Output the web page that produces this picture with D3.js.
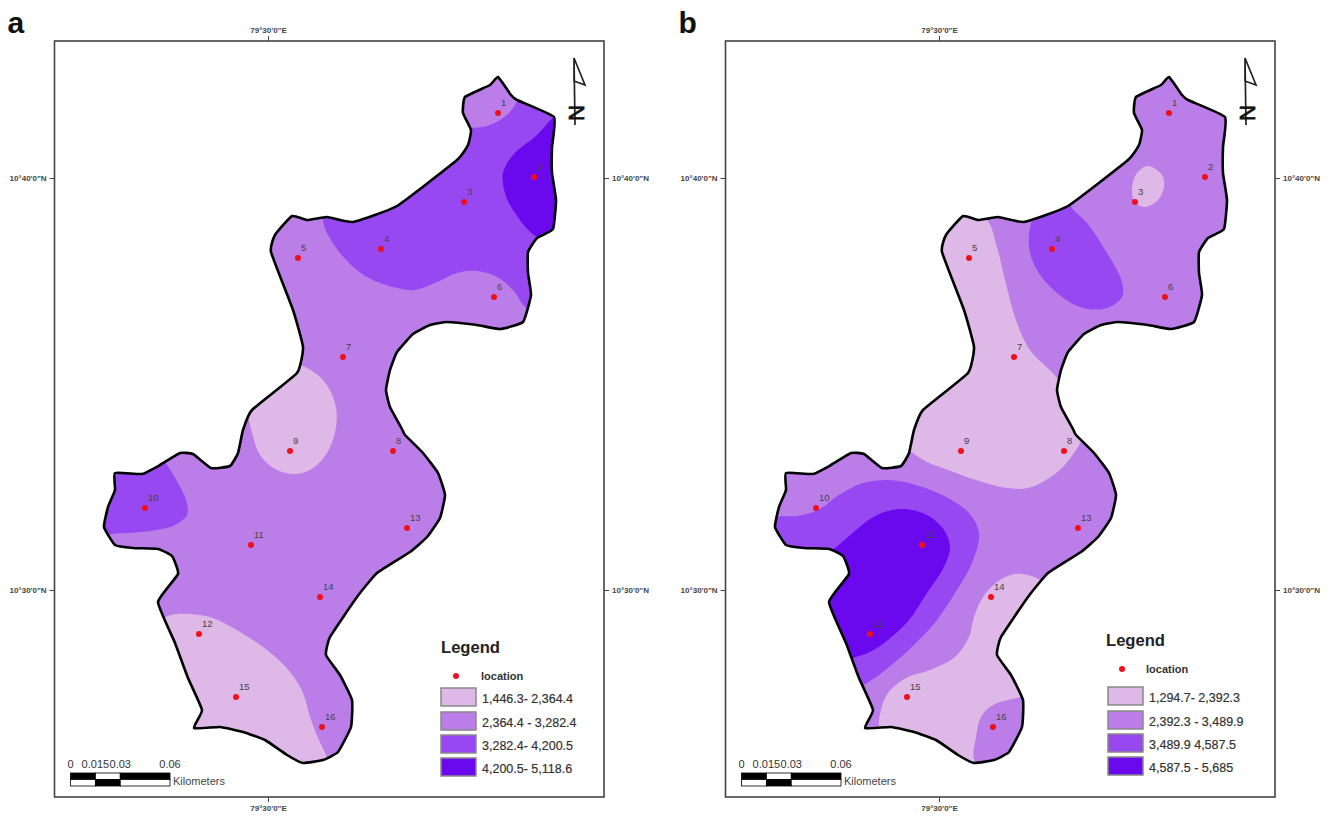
<!DOCTYPE html>
<html lang="en">

<head>
    <meta charset="UTF-8">
    <title>Two classified maps</title>
    <script src="https://d3js.org/d3.v7.min.js"></script>
    <style>
        html, body { margin: 0; background: #fff; }
        svg { display: block; font-family: "Liberation Sans", Arial, sans-serif; }
    </style>
</head>

<body>
    <div id="chart"></div>
    <script>
        // map data is in grid units east / north of the 79°30'E, 10°30'N crossing
        // (412 units = 10 arc minutes)
        const boundary = [
            [230,513],[243,495],[249,490],[286,473],[284,443],[284,417],[288,390],[285,361],[269,352],[260,338],
            [260,317],[263,295],[255,268],[232,261],[209,265],[179,268],[162,265],[145,256],[129,238],[122,220],
            [118,200],[122,183],[134,161],[137,155],[155,137],[170,117],[177,95],[172,72],[159,53],[142,38],
            [109,17],[89,-7],[62,-47],[58,-65],[72,-85],[84,-110],[83,-137],[70,-162],[55,-170],[35,-173],
            [19,-165],[-3,-150],[-25,-142],[-48,-137],[-74,-138],[-66,-120],[-80,-88],[-93,-53],[-110,-12],[-90,16],
            [-96,34],[-110,41],[-135,42],[-153,45],[-164,63],[-160,83],[-153,100],[-153,117],[-126,116],[-108,125],
            [-88,137],[-75,136],[-57,122],[-38,124],[-30,137],[-25,160],[-16,180],[29,217],[35,243],[25,280],
            [3,338],[7,355],[24,374],[39,370],[59,373],[85,368],[129,384],[189,430],[200,445],[203,460],
            [195,477],[197,493],[222,505]
        ];

        const locationIds = [1, 2, 3, 4, 5, 6, 7, 8, 9, 10, 11, 12, 13, 14, 15, 16];
        const locationEast = [230, 266, 196, 113, 30, 226, 75, 125, 22, -123, -17, -69, 139, 52, -32, 54];
        const locationNorth = [477, 413, 388, 341, 332, 293, 233, 139, 139, 82, 45, -44, 62, -7, -107, -137];

        // zones of map a, each one is clipped by the boundary
        const zoneA3Main = [[55,370],[72,337],[99,313],[129,302],[147,300],[169,308],[189,317],[209,319],[229,313],[245,300],[257,283],[277,270],[332,340],[332,480],[252,530],[172,520],[152,420],[62,390]];
        const zoneA2Top = [[202,462],[222,465],[239,475],[249,488],[262,510],[222,530],[177,510],[177,465]];
        const zoneA4East = [[286,473],[269,455],[245,435],[235,417],[237,397],[245,380],[269,353],[307,345],[322,410],[307,485]];
        const zoneA1Centre = [[35,224],[55,210],[67,187],[68,163],[59,137],[45,122],[29,116],[9,120],[-8,135],[-16,157],[-19,170],[-23,185],[17,230]];
        const zoneA3West = [[-101,125],[-90,107],[-81,87],[-81,75],[-93,65],[-118,59],[-141,57],[-156,56],[-183,50],[-183,130],[-118,145]];
        const zoneA1South = [[-100,-26],[-78,-24],[-55,-28],[-28,-42],[-1,-60],[22,-82],[35,-103],[42,-127],[50,-148],[59,-168],[62,-190],[-68,-170],[-108,-110],[-118,-40]];

        // zones of map b
        const zoneB1North = [[48,370],[58,343],[66,310],[78,267],[91,240],[118,212],[127,195],[144,155],[140,145],[124,123],[107,110],[89,102],[68,102],[37,110],[9,120],[-12,128],[-26,137],[-43,150],[-28,190],[-8,330],[22,385]];
        const zoneB3Centre = [[-162,73],[-142,74],[-121,80],[-100,95],[-76,107],[-51,110],[-23,105],[9,92],[30,77],[40,57],[33,27],[16,-3],[-2,-30],[-23,-53],[-51,-78],[-72,-93],[-88,-100],[-128,-30],[-158,30],[-178,60]];
        const zoneB4 = [[-104,42],[-83,60],[-62,75],[-37,81],[-12,75],[5,60],[11,43],[5,23],[-12,-3],[-30,-30],[-51,-50],[-69,-62],[-86,-68],[-103,-75],[-128,-20],[-123,30]];
        const zoneB3North = [[133,382],[148,367],[168,337],[183,308],[183,293],[168,282],[144,282],[118,297],[98,320],[90,343],[93,370],[102,385],[127,395]];
        const zoneB1At3 = [[209,424],[223,415],[225,403],[219,390],[206,383],[196,388],[193,402],[198,417]];
        const zoneB1South = [[102,10],[89,15],[75,16],[58,8],[44,-7],[35,-27],[30,-47],[16,-67],[-9,-80],[-33,-88],[-51,-103],[-58,-120],[-60,-137],[-53,-155],[-38,-180],[52,-200],[102,-150],[107,-60],[122,0]];
        const zoneB2South = [[35,-170],[37,-147],[42,-127],[54,-115],[82,-107],[107,-100],[112,-170],[52,-195]];

        const legendA = ["1,446.3- 2,364.4", "2,364.4 - 3,282.4", "3,282.4- 4,200.5", "4,200.5- 5,118.6"];
        const legendB = ["1,294.7- 2,392.3", "2,392.3 - 3,489.9", "3,489.9 4,587.5", "4,587.5 - 5,685"];
        const scaleStops = [0, 0.015, 0.03, 0.06];

        const classColors = ["#deb8e6", "#bb7ee9", "#9848f0", "#6a08ee"];
        const base = 1; // class that fills the whole map before the zones

        const svg = d3.select("#chart").append("svg")
            .attr("width", 1340)
            .attr("height", 819);

        function drawPanel(p) {
            const x = d3.scaleLinear().domain([-213.5, 336]).range([p.left, p.left + 549.5]);
            const y = d3.scaleLinear().domain([549, -207]).range([41, 797]);
            const smooth = d3.line().x(d => x(d[0])).y(d => y(d[1])).curve(d3.curveCatmullRomClosed.alpha(0.5));
            // tight cardinal keeps the corners of the boundary but softens the long bends
            const outline = d3.line().x(d => x(d[0])).y(d => y(d[1])).curve(d3.curveCardinalClosed.tension(0.6));

            const g = svg.append("g");

            g.append("text").attr("x", p.left - 47).attr("y", 33)
                .attr("font-size", 30).attr("font-weight", "bold").attr("fill", "#111").text(p.letter);

            g.append("rect").attr("x", p.left).attr("y", 41).attr("width", 549.5).attr("height", 756)
                .attr("fill", "#fff").attr("stroke", "#444").attr("stroke-width", 1.6);

            // graticule ticks
            const fmtE = () => "79°30'0\"E";
            const fmtN = d => d === 0 ? "10°30'0\"N" : "10°40'0\"N";
            const axes = [
                [d3.axisTop(x).tickValues([0]).tickFormat(fmtE), 0, 41],
                [d3.axisBottom(x).tickValues([0]).tickFormat(fmtE), 0, 797],
                [d3.axisLeft(y).tickValues([0, 412]).tickFormat(fmtN), p.left, 0],
                [d3.axisRight(y).tickValues([0, 412]).tickFormat(fmtN), p.left + 549.5, 0]
            ];
            axes.forEach(a => {
                const ax = g.append("g").attr("transform", `translate(${a[1]},${a[2]})`)
                    .call(a[0].tickSize(5).tickPadding(3));
                ax.select(".domain").remove();
                ax.selectAll("line").attr("stroke", "#444");
                ax.selectAll("text").attr("font-size", 8).attr("font-weight", "bold")
                    .attr("font-family", "Liberation Sans").attr("fill", "#444");
            });

            // zones, clipped by the boundary
            g.append("clipPath").attr("id", "clip-" + p.letter)
                .append("path").attr("d", outline(boundary));

            g.append("path").attr("d", outline(boundary)).attr("fill", classColors[base]);

            g.append("g").attr("clip-path", `url(#clip-${p.letter})`)
                .selectAll("path")
                .data(p.zones)
                .join("path")
                .attr("d", d => smooth(d.points))
                .attr("fill", d => classColors[d.cls]);

            g.append("path").attr("d", outline(boundary))
                .attr("fill", "none").attr("stroke", "#000").attr("stroke-width", 2.6)
                .attr("stroke-linejoin", "round");

            // sample locations
            const dots = g.append("g").selectAll("g")
                .data(locationIds)
                .join("g")
                .attr("transform", (d, i) => `translate(${x(locationEast[i])},${y(locationNorth[i])})`);
            dots.append("circle").attr("r", 3).attr("fill", "#f0101c");
            dots.append("text").attr("x", 3).attr("y", -7).attr("font-size", 9.5).attr("fill", "#444").text(d => d);

            // north arrow
            const north = g.append("g").attr("transform", `translate(${p.left + 519.5},0)`)
                .attr("fill", "none").attr("stroke", "#222").attr("stroke-width", 1.7);
            north.append("path").attr("d", "M0,58 L11,85 L0,81 Z M0,58 L1,125");
            north.append("text").attr("transform", "translate(-5,113) rotate(90)")
                .attr("text-anchor", "middle").attr("font-size", 22)
                .attr("fill", "#111").attr("stroke", "#111").attr("stroke-width", 0.7).text("N");

            // scale bar
            const km = d3.scaleLinear().domain([0, 0.06]).range([p.left + 16, p.left + 115.5]);
            const bar = g.append("g");
            bar.selectAll("text.stop")
                .data(scaleStops)
                .join("text")
                .attr("class", "stop")
                .attr("x", d => km(d)).attr("y", 768)
                .attr("text-anchor", "middle").attr("font-size", 11).attr("fill", "#333")
                .text(d => d);
            d3.pairs(scaleStops).forEach((s, i) => {
                [0, 1].forEach(row => {
                    bar.append("rect")
                        .attr("x", km(s[0])).attr("y", 773 + row * 6.5)
                        .attr("width", km(s[1]) - km(s[0])).attr("height", 6.5)
                        .attr("fill", (i + row) % 2 === 0 ? "#000" : "#fff")
                        .attr("stroke", "#000").attr("stroke-width", 0.8);
                });
            });
            bar.append("text").attr("x", km(0.06) + 3).attr("y", 785)
                .attr("font-size", 11).attr("fill", "#444").text("Kilometers");

            // legend
            const lg = p.legend;
            g.append("text").attr("x", lg.left).attr("y", lg.titleY)
                .attr("font-size", 16.6).attr("font-weight", "bold").attr("fill", "#222").text("Legend");
            g.append("circle").attr("cx", lg.dotX).attr("cy", lg.dotY).attr("r", 3).attr("fill", "#f0101c");
            g.append("text").attr("x", lg.locX).attr("y", lg.dotY + 4)
                .attr("font-size", 11).attr("font-weight", "bold").attr("fill", "#333").text("location");
            g.selectAll("rect.swatch")
                .data(p.labels)
                .join("rect")
                .attr("class", "swatch")
                .attr("x", lg.swatchX).attr("y", (d, i) => lg.swatchY[i])
                .attr("width", 35).attr("height", 18)
                .attr("fill", (d, i) => classColors[i])
                .attr("stroke", "#888").attr("stroke-width", 1.5);
            g.selectAll("text.label")
                .data(p.labels)
                .join("text")
                .attr("class", "label")
                .attr("x", lg.swatchX + 41).attr("y", (d, i) => lg.swatchY[i] + 15)
                .attr("font-size", 12.5).attr("fill", "#333")
                .attr("stroke", "#333").attr("stroke-width", 0.2)
                .text(d => d);
        }

        drawPanel({
            letter: "a",
            left: 54.5,
            labels: legendA,
            zones: [
                { cls: 2, points: zoneA3Main },
                { cls: 1, points: zoneA2Top },
                { cls: 3, points: zoneA4East },
                { cls: 0, points: zoneA1Centre },
                { cls: 2, points: zoneA3West },
                { cls: 0, points: zoneA1South }
            ],
            legend: { left: 441, titleY: 653, dotX: 456, dotY: 676, locX: 481, swatchX: 441, swatchY: [688, 712, 735, 758] }
        });

        drawPanel({
            letter: "b",
            left: 725.5,
            labels: legendB,
            zones: [
                { cls: 0, points: zoneB1North },
                { cls: 2, points: zoneB3Centre },
                { cls: 3, points: zoneB4 },
                { cls: 2, points: zoneB3North },
                { cls: 0, points: zoneB1At3 },
                { cls: 0, points: zoneB1South },
                { cls: 1, points: zoneB2South }
            ],
            legend: { left: 1106, titleY: 646, dotX: 1122, dotY: 669, locX: 1146, swatchX: 1108, swatchY: [687, 711, 734, 757] }
        });
    </script>
</body>

</html>
